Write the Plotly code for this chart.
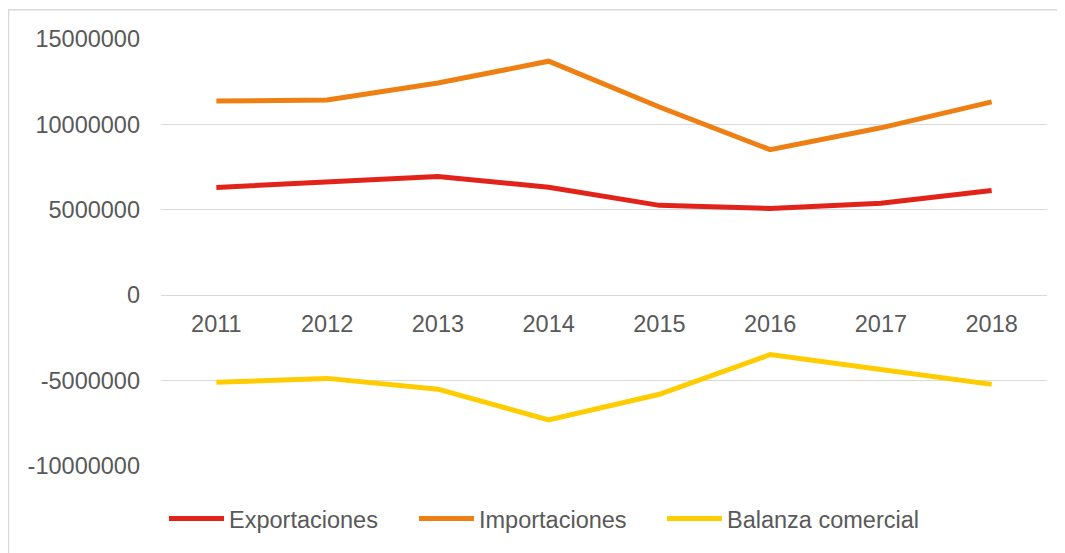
import plotly.graph_objects as go

years = ["2011", "2012", "2013", "2014", "2015", "2016", "2017", "2018"]
exportaciones = [6310000, 6600000, 6950000, 6320000, 5260000, 5080000, 5380000, 6130000]
importaciones = [11370000, 11430000, 12420000, 13700000, 11020000, 8520000, 9800000, 11320000]
balanza = [-5100000, -4870000, -5500000, -7300000, -5800000, -3480000, -4350000, -5220000]

series = [
    ("Exportaciones", exportaciones, "#E2231A", "legend"),
    ("Importaciones", importaciones, "#EE7F12", "legend2"),
    ("Balanza comercial", balanza, "#FFCC00", "legend3"),
]

# page body has an 8px default margin, so the figure starts at (8, 8)
OFF = 8
W, H = 1065 - OFF, 553 - OFF
ml, mt = 161 - OFF, 39 - OFF
right, bottom = 1047 - OFF, 468 - OFF
mr, mb = W - right, H - bottom
pw, ph = W - ml - mr, H - mt - mb

fig = go.Figure()
for name, vals, col, lg in series:
    fig.add_trace(go.Scatter(x=years, y=vals, name=name, mode="lines",
                             line=dict(color=col, width=5), legend=lg))

font = dict(family="Liberation Sans, Arial, sans-serif", size=23.5, color="#595959")

def px_x(p):
    return (p - OFF - ml) / pw

def px_y(p):
    return (H - mb - (p - OFF)) / ph

def legend_at(xpx):
    return dict(orientation="h", x=px_x(xpx), y=px_y(521), xanchor="left", yanchor="middle",
                font=font, itemwidth=55, bgcolor="rgba(0,0,0,0)")

fig.update_layout(
    width=W, height=H,
    margin=dict(l=ml, r=mr, t=mt, b=mb),
    plot_bgcolor="white", paper_bgcolor="white",
    font=font,
    xaxis=dict(type="category", range=[-0.5, 7.5], anchor="free", position=0.4,
               showgrid=False, showline=True, linecolor="#D9D9D9", linewidth=1,
               ticks="", ticklabelstandoff=8, tickfont=font, automargin=False),
    yaxis=dict(range=[-10000000, 15000000], tickvals=[-10000000, -5000000, 0, 5000000, 10000000, 15000000],
               ticktext=["-10000000", "-5000000", "0", "5000000", "10000000", "15000000"],
               showgrid=True, gridcolor="#D9D9D9", gridwidth=1, zeroline=False,
               showline=False, ticks="", ticklabelstandoff=20, tickfont=font, automargin=False),
    legend=legend_at(164),
    legend2=legend_at(414),
    legend3=legend_at(662),
    showlegend=True,
    shapes=[dict(type="rect", xref="paper", yref="paper",
                 x0=px_x(8.5), x1=px_x(1080), y0=px_y(570), y1=px_y(9.5),
                 line=dict(color="#D9D9D9", width=1.5), fillcolor="rgba(0,0,0,0)", layer="below")],
)

fig.write_html("out.html")
